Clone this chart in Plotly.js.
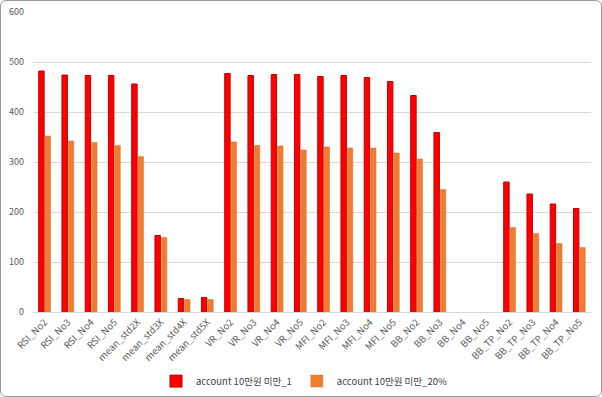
<!DOCTYPE html>
<html><head><meta charset="utf-8">
<script src="https://cdn.plot.ly/plotly-3.0.1.min.js"></script>
<style>
html,body{margin:0;padding:0;background:#fff;}
#chart{width:602px;height:397px;}
#frame{position:absolute;left:0;top:0;width:600px;height:395px;border:1px solid #9a9a9a;border-radius:6px;pointer-events:none;}
</style></head><body>
<div id="chart"></div>
<div id="frame"></div>
<script>
const categories = ["RSI_No2","RSI_No3","RSI_No4","RSI_No5","mean_std2X","mean_std3X","mean_std4X","mean_std5X","VR_No2","VR_No3","VR_No4","VR_No5","MFI_No2","MFI_No3","MFI_No4","MFI_No5","BB_No2","BB_No3","BB_No4","BB_No5","BB_TP_No2","BB_TP_No3","BB_TP_No4","BB_TP_No5"];
const series1 = [482,474,473,473,456,153,27,29,477,473,475,475,471,473,469,461,433,359,null,null,260,236,216,207];
const series2 = [352,342,339,333,311,149,25,25,340,333,332,324,330,328,328,318,306,245,null,null,169,157,137,129];
const name1 = "account 10만원 미만_1";
const name2 = "account 10만원 미만_20%";
const yTicks = [0,100,200,300,400,500,600];

const font = "Malgun Gothic, 'Noto Sans CJK KR', 'Open Sans', sans-serif";
const data = [
  {type:"bar", x:categories, y:series1, name:name1,
   marker:{color:"#FF0000", line:{color:"#C00000", width:1}}},
  {type:"bar", x:categories, y:series2, name:name2,
   marker:{color:"#ED7D31", line:{color:"#E07028", width:0.5}}}
];
const layout = {
  width:602, height:397,
  margin:{l:33, r:11, t:12, b:85},
  paper_bgcolor:"#fff", plot_bgcolor:"#fff",
  barmode:"group", bargap:0.45, bargroupgap:0.15,
  font:{family:font, size:9, color:"#595959"},
  xaxis:{type:"category", automargin:false, tickangle:-45, showgrid:false, showline:true, linecolor:"#d9d9d9", linewidth:1, ticks:"", tickfont:{size:9.5, color:"#595959"}},
  yaxis:{range:[0,600], automargin:false, tickvals:yTicks, showgrid:true, gridcolor:"#d9d9d9", gridwidth:1, zeroline:false, showline:false, ticks:"", ticklabelstandoff:8, tickfont:{size:9, color:"#595959"}},
  showlegend:true,
  legend:{orientation:"h", x:0.505, xanchor:"center", xref:"container", yref:"container", y:0.04, yanchor:"middle", font:{size:9.5, color:"#404040"}, itemwidth:30, traceorder:"normal"}
};
Plotly.newPlot("chart", data, layout, {displayModeBar:false, staticPlot:true});
</script>
</body></html>
